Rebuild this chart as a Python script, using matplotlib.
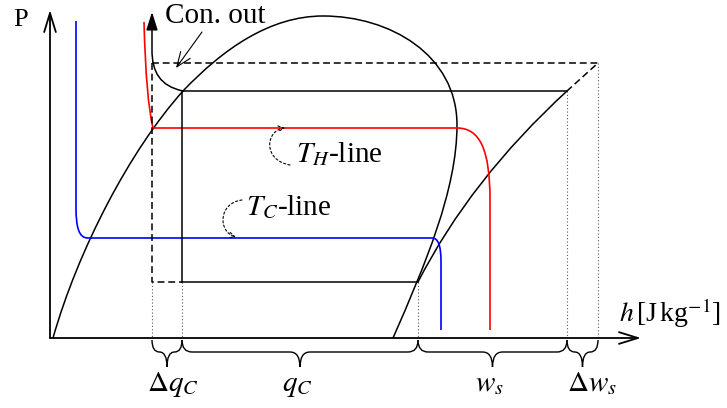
import matplotlib.pyplot as plt
from matplotlib.path import Path
from matplotlib.patches import PathPatch, FancyArrowPatch

plt.rcParams['font.family'] = 'Liberation Serif'
plt.rcParams['mathtext.fontset'] = 'stix'
plt.rcParams['font.size'] = 21

# schematic laid out in picture coordinates (x right, y down)
origin = (50, 338)          # corner of the P-h axes
h_axis_end = 641
p_axis_end = 10

# enthalpy positions marked on the h axis
h_marks = [152, 182, 418, 567, 598]
brace_labels = [r'$\Delta q_C$', r'$q_C$', r'$w_s$', r'$\Delta w_s$']
label_x = [173, 297, 489, 592]

# pressure levels
p_cond_dashed = 63
p_cond = 91
p_TH = 128
p_TC = 238
p_evap = 282

# saturation dome (bezier control points)
dome_pts = [(53, 338), (78, 250), (130, 150), (183, 91),
            (223, 49), (270, 16), (323, 16),
            (390, 16), (457, 55), (457, 125),
            (457, 190), (425, 265), (393, 338)]

# compression line, evaporator outlet -> condenser inlet
comp_pts = [(418, 282), (470, 180), (567, 91)]

# condenser outlet curve (ends in arrow)
con_out_pts = [(183, 91), (160, 86), (152, 72), (152, 50), (152, 12)]

# hot and cold temperature lines
TH_pts = [(144, 22), (146, 100), (153, 128), (457, 128),
          (480, 128), (490, 150), (490, 200), (490, 330)]
TC_pts = [(76, 21), (76, 207), (76, 228), (79, 238), (88, 238), (432, 238),
          (438, 238), (441, 245), (441, 262), (441, 330)]

M, L, C3, C4 = Path.MOVETO, Path.LINETO, Path.CURVE3, Path.CURVE4

fig = plt.figure(figsize=(7.27, 4.08), dpi=100)
ax = fig.add_axes([0, 0, 1, 1])
ax.set_xlim(0, 727)
ax.set_ylim(408, 0)
ax.axis('off')

lw = 1.1

# axes arrows
for tip in [(origin[0], p_axis_end), (h_axis_end, origin[1])]:
    ax.annotate('', xy=tip, xytext=origin,
                arrowprops=dict(arrowstyle='->,head_length=0.65,head_width=0.2',
                                lw=1.3, color='black', shrinkA=0, shrinkB=0))
ax.text(21, 26, 'P', ha='center', va='baseline', fontsize=19)
ax.text(619, 322, r'$h\,$[J$\,$kg$^{\mathrm{-1}}$]', ha='left', va='baseline', fontsize=20)

# dotted guide lines down to the h axis
dot_tops = [p_evap, p_evap, p_evap, p_cond, p_cond_dashed]
for h, top in zip(h_marks, dot_tops):
    ax.plot([h, h], [top, origin[1]], ls=(0, (1, 2)), lw=0.8, color='0.35')

# saturation dome
codes = [M] + [C4] * 12
ax.add_patch(PathPatch(Path(dome_pts, codes), fill=False, lw=lw, color='black'))

# solid cycle
ax.plot([h_marks[1], h_marks[1], h_marks[3]], [p_evap, p_cond, p_cond], color='black', lw=lw)
ax.plot([h_marks[1], h_marks[2]], [p_evap, p_evap], color='black', lw=lw)
ax.add_patch(PathPatch(Path(comp_pts, [M, C3, C3]), fill=False, lw=lw, color='black'))

# dashed cycle
dash = (0, (4.5, 2.5))
ax.plot([h_marks[0], h_marks[4], h_marks[3]], [p_cond_dashed, p_cond_dashed, p_cond],
        color='black', lw=lw, ls=dash)
ax.plot([h_marks[0], h_marks[0], h_marks[1]], [p_cond_dashed, p_evap, p_evap],
        color='black', lw=lw, ls=dash)

# temperature lines
ax.add_patch(PathPatch(Path(TH_pts, [M, C3, C3, L, C4, C4, C4, L]),
                       fill=False, lw=1.2, color='#ff0000'))
ax.add_patch(PathPatch(Path(TC_pts, [M, L, C4, C4, C4, L, C4, C4, C4, L]),
                       fill=False, lw=1.2, color='#0000ff'))

# condenser outlet curve with arrow
ax.add_patch(FancyArrowPatch(path=Path(con_out_pts, [M, C4, C4, C4, L]),
                             arrowstyle='-|>,head_length=1.1,head_width=0.35',
                             mutation_scale=10, lw=lw, color='black'))
ax.text(215, 23, 'Con. out', ha='center', va='baseline')
ax.annotate('', xy=(176, 68), xytext=(202, 32),
            arrowprops=dict(arrowstyle='->,head_length=0.5,head_width=0.2',
                            lw=0.8, color='black', shrinkA=0, shrinkB=0))

# labels for the temperature lines
ax.text(296, 162, r'$T_H$-line', ha='left', va='baseline')
ax.add_patch(FancyArrowPatch(path=Path([(290, 165), (262, 160), (266, 130), (285, 128)],
                                       [M, C4, C4, C4]),
                             arrowstyle='->,head_length=0.4,head_width=0.2',
                             mutation_scale=10, lw=0.8, ls=(0, (2, 2)), color='black'))
ax.text(246, 215, r'$T_C$-line', ha='left', va='baseline')
ax.add_patch(FancyArrowPatch(path=Path([(242, 200), (218, 203), (218, 232), (236, 237)],
                                       [M, C4, C4, C4]),
                             arrowstyle='->,head_length=0.4,head_width=0.2',
                             mutation_scale=10, lw=0.8, ls=(0, (2, 2)), color='black'))


def brace(x0, x1, y0=340, ym=352, y1=367):
    xm = (x0 + x1) / 2
    r = min(10, (x1 - x0) / 4)
    verts = [(x0, y0), (x0, ym), (x0 + r, ym), (xm - r, ym), (xm, ym), (xm, y1),
             (xm, ym), (xm + r, ym), (x1 - r, ym), (x1, ym), (x1, y0)]
    codes = [M, C3, C3, L, C3, C3, C3, C3, L, C3, C3]
    ax.add_patch(PathPatch(Path(verts, codes), fill=False, lw=1.0, color='black'))


for x0, x1, lab, lx in zip(h_marks[:-1], h_marks[1:], brace_labels, label_x):
    brace(x0, x1)
    ax.text(lx, 391, lab, ha='center', va='baseline')

fig.savefig('out.png', dpi=100)
